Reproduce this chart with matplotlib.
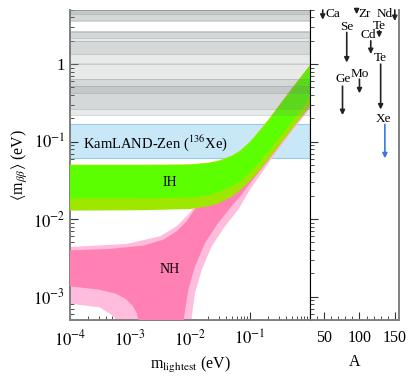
import matplotlib

matplotlib.use("Agg")
import matplotlib.pyplot as plt
from matplotlib.ticker import MultipleLocator, LogLocator, NullFormatter

plt.rcParams["font.family"] = ["Liberation Serif", "DejaVu Serif"]
plt.rcParams["mathtext.fontset"] = "stix"

# ---- inverted hierarchy band (m_lightest, <m_bb>) in eV
ih_m = [1e-4, 1e-3, 3e-3, 0.01, 0.02, 0.03, 0.05, 0.07, 0.1, 0.15, 0.2, 0.3, 0.5, 1.0]
ih_out_hi = [0.0505, 0.0505, 0.0506, 0.051, 0.0535, 0.057, 0.066, 0.078, 0.100, 0.145, 0.19, 0.29, 0.49, 0.98]
ih_out_lo = [0.0129, 0.0130, 0.0132, 0.0135, 0.0146, 0.0160, 0.0195, 0.024, 0.031, 0.044, 0.058, 0.087, 0.145, 0.29]
ih_in_hi = [0.049, 0.049, 0.0491, 0.0495, 0.052, 0.055, 0.064, 0.075, 0.096, 0.138, 0.18, 0.275, 0.46, 0.92]
ih_in_lo = [0.0185, 0.0186, 0.0187, 0.0190, 0.0203, 0.0222, 0.0265, 0.031, 0.040, 0.056, 0.074, 0.11, 0.18, 0.37]

# ---- normal hierarchy band, outer (light) contour
nh_out_hi_m = [1e-4, 8.8e-4, 3.16e-3, 6.0e-3, 9.4e-3, 0.0121, 0.02, 0.03, 0.05, 0.1, 0.2, 0.5, 1.0]
nh_out_hi = [4.38e-3, 4.79e-3, 6.01e-3, 8.1e-3, 0.01148, 0.0147, 0.0225, 0.0325, 0.052, 0.096, 0.186, 0.475, 0.96]
nh_out_lo_m = [1e-4, 3.1e-4, 4.5e-4, 5.5e-4, 6.0e-4, 6.3e-4, 0.0102, 0.0104, 0.0121, 0.0157,
               0.023, 0.0383, 0.0638, 0.1, 0.2, 0.5, 1.0]
nh_out_lo = [8.1e-4, 7.3e-4, 6.1e-4, 5.4e-4, 4.7e-4, 1e-5, 1e-5, 4.7e-4, 1.11e-3, 2.23e-3,
             4.46e-3, 8.1e-3, 0.0133, 0.0241, 0.052, 0.135, 0.27]

# ---- normal hierarchy band, inner (dark) contour
nh_in_hi_m = [1e-4, 4.6e-4, 1.67e-3, 3.6e-3, 6.0e-3, 8.8e-3, 0.0114, 0.0138, 0.02, 0.03, 0.05, 0.1, 0.2, 0.5, 1.0]
nh_in_hi = [3.96e-3, 4.13e-3, 4.55e-3, 5.44e-3, 6.97e-3, 9.4e-3, 0.01265, 0.01545, 0.021, 0.031, 0.05, 0.094, 0.183, 0.47, 0.95]
nh_in_lo_m = [1e-4, 3.1e-4, 5.85e-4, 8.6e-4, 1.11e-3, 1.3e-3, 1.4e-3, 1.45e-3, 7.5e-3, 7.73e-3,
              9.37e-3, 0.0121, 0.0178, 0.0296, 0.0495, 0.0727, 0.1, 0.2, 0.5, 1.0]
nh_in_lo = [1.36e-3, 1.23e-3, 1.09e-3, 9.3e-4, 7.6e-4, 6.1e-4, 4.7e-4, 1e-5, 1e-5, 4.7e-4,
            1.23e-3, 2.46e-3, 4.93e-3, 8.96e-3, 0.0147, 0.0208, 0.029, 0.057, 0.145, 0.29]

# ---- experimental limits per isotope: mass number, label, range of <m_bb> limits (eV)
iso_label = ["Ca", "Zr", "Nd", "Te", "Cd", "Se", "Te", "Mo", "Ge", "Xe"]
iso_A = [48, 96, 150, 128, 116, 82, 130, 100, 76, 136]
lim_hi = [5.0, 5.0, 5.0, 2.7, 2.0, 2.57, 1.0, 0.64, 0.52, 0.167]
lim_lo = [3.74, 4.4, 3.6, 2.2, 1.35, 1.05, 0.26, 0.42, 0.22, 0.061]
# label anchor (A, <m_bb>) and alignment
lab_A = [52, 98.5, 147.5, 128.2, 112, 82, 129.4, 100.3, 76.3, 134.3]
lab_y = [4.4, 4.4, 4.4, 3.15, 2.37, 2.98, 1.19, 0.742, 0.64, 0.198]
lab_ha = ["left", "left", "right", "center", "center", "center", "center", "center", "center", "center"]

fig = plt.figure(figsize=(4.15, 3.84), dpi=100)
ax = fig.add_axes([0.1687, 0.1667, 0.5783, 0.8073])
ax2 = fig.add_axes([0.747, 0.1667, 0.2145, 0.8073])

# KamLAND-Zen band (Xe)
xe = iso_label.index("Xe")
ax.axhspan(lim_lo[xe], lim_hi[xe], facecolor="#c8e8f8", edgecolor="#9cc8ea", lw=0.8, zorder=1)

# NH then IH on top
ax.fill(nh_out_hi_m + nh_out_lo_m[::-1], nh_out_hi + nh_out_lo[::-1], color="#ffbcdc", lw=0, zorder=2)
ax.fill(nh_in_hi_m + nh_in_lo_m[::-1], nh_in_hi + nh_in_lo[::-1], color="#ff80b2", lw=0, zorder=3)
ax.fill(ih_m + ih_m[::-1], ih_out_hi + ih_out_lo[::-1], color="#9ee800", lw=0, zorder=4)
ax.fill(ih_m + ih_m[::-1], ih_in_hi + ih_in_lo[::-1], color="#5cff00", lw=0, zorder=5)

# grey bands of the other isotopes
for i in range(len(iso_label)):
    if i == xe:
        continue
    ax.axhspan(lim_lo[i], lim_hi[i], facecolor="#5f6c6e", alpha=0.14, lw=0, zorder=6)
    for v in (lim_lo[i], lim_hi[i]):
        ax.axhline(v, color="#8a9496", lw=0.5, alpha=0.5, zorder=6)

ax.text(2.7e-3, 0.095, r"KamLAND-Zen ($^{136}$Xe)", fontsize=10.5, ha="center", va="center", zorder=8)
ax.text(4.7e-3, 0.0297, "IH", fontsize=10, ha="center", va="center", zorder=8)
ax.text(4.6e-3, 0.00223, "NH", fontsize=10, ha="center", va="center", zorder=8)

ax.set_xscale("log")
ax.set_yscale("log")
ax.set_xlim(1e-4, 1)
ax.set_ylim(5e-4, 5)
ax.set_xticks([1e-4, 1e-3, 1e-2, 1e-1])
ax.set_xticklabels([r"$10^{-4}$", r"$10^{-3}$", r"$10^{-2}$", r"$10^{-1}$"])
ax.set_yticks([1e-3, 1e-2, 1e-1, 1])
ax.set_yticklabels([r"$10^{-3}$", r"$10^{-2}$", r"$10^{-1}$", "1"])
ax.xaxis.set_minor_locator(LogLocator(base=10, subs=range(2, 10)))
ax.yaxis.set_minor_locator(LogLocator(base=10, subs=range(2, 10)))
ax.xaxis.set_minor_formatter(NullFormatter())
ax.yaxis.set_minor_formatter(NullFormatter())
ax.tick_params(which="both", direction="in", top=False, right=False, labelsize=12, color="#333333")
ax.tick_params(which="major", length=6, width=0.8)
ax.tick_params(which="minor", length=3, width=0.6)
ax.tick_params(axis="x", pad=7)
ax.set_xlabel(r"m$_{\mathrm{lightest}}$ (eV)", fontsize=11.5)
ax.set_ylabel(r"$\langle$m$_{\beta\beta}\rangle$ (eV)", fontsize=11.5, labelpad=2)
ax.spines["top"].set_visible(False)
ax.spines["right"].set_color("black")
ax.spines["right"].set_linewidth(0.8)
for s in ("left", "bottom"):
    ax.spines[s].set_color("#808080")
    ax.spines[s].set_linewidth(1.4)

# right panel: limits vs mass number
for i in range(len(iso_label)):
    c = "#3a78e0" if i == xe else "#222222"
    ax2.annotate("", xy=(iso_A[i], lim_lo[i]), xytext=(iso_A[i], lim_hi[i]),
                 arrowprops=dict(arrowstyle="-|>", color=c, lw=1.2, mutation_scale=7,
                                 shrinkA=0, shrinkB=0))
    ax2.text(lab_A[i], lab_y[i], iso_label[i], fontsize=9.5, ha=lab_ha[i], va="center")

ax2.set_yscale("log")
ax2.set_ylim(5e-4, 5)
ax2.set_xlim(30, 156)
ax2.set_xticks([50, 100, 150])
ax2.xaxis.set_minor_locator(MultipleLocator(10))
ax2.yaxis.set_minor_locator(LogLocator(base=10, subs=range(2, 10)))
ax2.yaxis.set_minor_formatter(NullFormatter())
ax2.tick_params(axis="y", which="both", direction="in", left=True, right=False, labelleft=False)
ax2.tick_params(axis="x", which="both", direction="in", top=False, labelsize=11.5, pad=7)
ax2.tick_params(which="major", length=6, width=0.8, color="#333333")
ax2.tick_params(which="minor", length=3, width=0.6, color="#333333")
ax2.set_xlabel("A", fontsize=11.5, labelpad=6)
ax2.spines["top"].set_visible(False)
ax2.spines["left"].set_color("black")
ax2.spines["left"].set_linewidth(0.8)
for s in ("right", "bottom"):
    ax2.spines[s].set_color("#808080")
    ax2.spines[s].set_linewidth(1.4)

fig.savefig("out.png", dpi=100)
plt.close(fig)
